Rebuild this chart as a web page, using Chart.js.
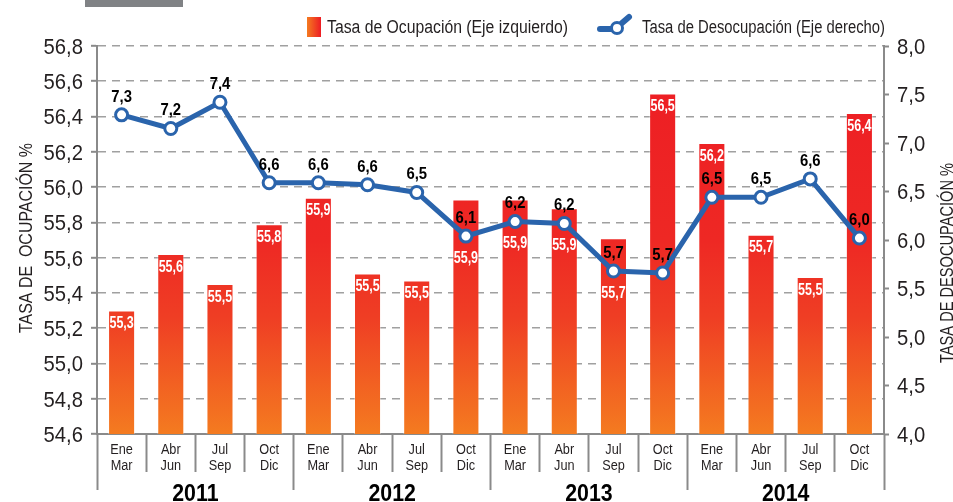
<!DOCTYPE html>
<html><head><meta charset="utf-8">
<script src="https://cdn.jsdelivr.net/npm/chart.js@4/dist/chart.umd.min.js"></script>
<style>html,body{margin:0;padding:0;background:#fff;}#wrap{width:953px;height:502px;position:relative;}</style>
</head><body><div id="wrap"><canvas id="c" width="953" height="502"></canvas></div>
<script>
const quarters = [['Ene','Mar'],['Abr','Jun'],['Jul','Sep'],['Oct','Dic'],['Ene','Mar'],['Abr','Jun'],['Jul','Sep'],['Oct','Dic'],['Ene','Mar'],['Abr','Jun'],['Jul','Sep'],['Oct','Dic'],['Ene','Mar'],['Abr','Jun'],['Jul','Sep'],['Oct','Dic']];
const years = ['2011','2012','2013','2014'];
const ocupacion = [55.30,55.62,55.45,55.79,55.94,55.51,55.47,55.93,55.93,55.88,55.71,56.53,56.25,55.73,55.49,56.42];
const ocupacionText = ['55,3','55,6','55,5','55,8','55,9','55,5','55,5','55,9','55,9','55,9','55,7','56,5','56,2','55,7','55,5','56,4'];
const desocupacion = [7.29,7.15,7.42,6.59,6.59,6.57,6.49,6.04,6.19,6.17,5.68,5.66,6.44,6.44,6.63,6.02];
const desocupacionText = ['7,3','7,2','7,4','6,6','6,6','6,6','6,5','6,1','6,2','6,2','5,7','5,7','6,5','6,5','6,6','6,0'];
const leftTicks = [54.6,54.8,55.0,55.2,55.4,55.6,55.8,56.0,56.2,56.4,56.6,56.8];
const rightTicks = [4.0,4.5,5.0,5.5,6.0,6.5,7.0,7.5,8.0];
const legendLabels = ['Tasa de Ocupación (Eje izquierdo)','Tasa de Desocupación (Eje derecho)'];
const axisTitles = ['TASA DE  OCUPACIÓN %','TASA DE DESOCUPACIÓN %'];

const F = '"Liberation Sans",Arial,Helvetica,sans-serif';
const TXT = '#231f20';
const AXIS = '#8a8a8a';
const GRID = '#a0a0a0';
const BLUE = '#2a64ac';
const CAP = 0.716;
const fmt = v => Number(v).toFixed(1).replace('.', ',');

// draw horizontally condensed text; (x,y) = anchor, y = vertical centre of capitals
function ctext(ctx, text, x, y, o) {
  ctx.save();
  ctx.font = (o.bold ? 'bold ' : '') + o.size + 'px ' + F;
  ctx.fillStyle = o.color || TXT;
  ctx.textBaseline = 'alphabetic';
  ctx.textAlign = o.align || 'center';
  let sx = o.sx || 1;
  if (o.width) sx = o.width / ctx.measureText(text).width;
  ctx.translate(x, y);
  if (o.rot) ctx.rotate(o.rot);
  ctx.scale(sx, 1);
  ctx.fillText(text, 0, o.size * CAP / 2);
  ctx.restore();
}

function barGradient(ctx) {
  const ca = ctx.chart.chartArea;
  if (!ca) return '#ee3a24';
  const g = ctx.chart.ctx.createLinearGradient(0, ca.top, 0, ca.bottom);
  g.addColorStop(0, '#ed1c24');
  g.addColorStop(0.5, '#ee2824');
  g.addColorStop(0.7, '#ef3e24');
  g.addColorStop(1, '#f47b20');
  return g;
}

const decor = {
  id: 'decor',
  afterDatasetDraw(chart, args) {
    if (args.index !== 1) return;
    const ctx = chart.ctx;
    const bars = chart.getDatasetMeta(1).data;
    const pts = chart.getDatasetMeta(0).data;
    bars.forEach((b, i) => {
      const top = b.y;
      const py = pts[i].y;
      let ly = top + 12;
      if (py - top > 0 && py - top < 45) ly = py + 21;
      ctext(ctx, ocupacionText[i], b.x, ly, { size: 16, bold: true, sx: 0.78, color: '#ffffff' });
    });
  },
  afterDatasetsDraw(chart) {
    const ctx = chart.ctx;
    const pts = chart.getDatasetMeta(0).data;
    pts.forEach((p, i) => ctext(ctx, desocupacionText[i], p.x, p.y - 19, { size: 16.5, bold: true, sx: 0.9, color: '#000000' }));
  },
  afterDraw(chart) {
    const ctx = chart.ctx;
    const sc = chart.scales;
    // tick labels
    sc.y.ticks.forEach(t => ctext(ctx, fmt(t.value), 83, sc.y.getPixelForValue(t.value), { size: 22, sx: 0.92, align: 'right' }));
    sc.y2.ticks.forEach(t => ctext(ctx, fmt(t.value), 897, sc.y2.getPixelForValue(t.value), { size: 22, sx: 0.92, align: 'left' }));
    quarters.forEach((q, i) => {
      const x = sc.x.getPixelForValue(i);
      ctext(ctx, q[0], x, 448.8, { size: 15.5, sx: 0.82 });
      ctext(ctx, q[1], x, 464.6, { size: 15.5, sx: 0.82 });
    });
    years.forEach((yv, i) => ctext(ctx, yv, sc.x2.getPixelForValue(i), 492, { size: 24.5, bold: true, sx: 0.87, color: '#000' }));
    ctx.save();
    // top grey tab
    ctx.fillStyle = '#808285';
    ctx.fillRect(85, 0, 98, 7);
    // legend
    const g = ctx.createLinearGradient(307, 0, 321, 0);
    g.addColorStop(0, '#f47b20');
    g.addColorStop(1, '#ed1c24');
    ctx.fillStyle = g;
    ctx.fillRect(307, 17, 14, 20);
    ctx.strokeStyle = BLUE;
    ctx.lineCap = 'round';
    ctx.lineWidth = 6;
    ctx.beginPath(); ctx.moveTo(600, 29); ctx.lineTo(612, 29); ctx.stroke();
    ctx.beginPath(); ctx.moveTo(622, 23); ctx.lineTo(629, 17); ctx.stroke();
    ctx.lineWidth = 3;
    ctx.fillStyle = '#fff';
    ctx.beginPath(); ctx.arc(617, 28, 5.5, 0, Math.PI * 2); ctx.fill(); ctx.stroke();
    ctx.restore();
    ctext(ctx, legendLabels[0], 327, 27, { size: 18, width: 241, align: 'left' });
    ctext(ctx, legendLabels[1], 642, 27, { size: 18, width: 243, align: 'left' });
    // axis titles
    ctext(ctx, axisTitles[0], 25, 238, { size: 19, width: 190, rot: -Math.PI / 2 });
    ctext(ctx, axisTitles[1], 946, 263, { size: 19, width: 200, rot: -Math.PI / 2 });
  }
};

new Chart(document.getElementById('c'), {
  data: {
    labels: quarters,
    datasets: [
      {
        type: 'line', label: legendLabels[1], data: desocupacion, yAxisID: 'y2', xAxisID: 'x', order: 0,
        borderColor: BLUE, borderWidth: 5, tension: 0,
        pointRadius: 6, pointBorderWidth: 3, pointBackgroundColor: '#ffffff', pointBorderColor: BLUE
      },
      {
        type: 'bar', label: legendLabels[0], data: ocupacion, yAxisID: 'y', xAxisID: 'x', order: 1,
        backgroundColor: barGradient, borderColor: 'rgba(255,255,255,0.35)', borderWidth: 1,
        barPercentage: 0.55, categoryPercentage: 1
      }
    ]
  },
  options: {
    responsive: false, animation: false, devicePixelRatio: 1,
    layout: { padding: { top: 46, left: 0, right: 0, bottom: 0 } },
    plugins: { legend: { display: false }, tooltip: { enabled: false } },
    scales: {
      x: {
        type: 'category', position: 'bottom', weight: 0, offset: true,
        grid: { offset: true, drawOnChartArea: false, drawTicks: true, tickLength: 38, tickColor: AXIS, tickWidth: 2 },
        border: { display: true, color: AXIS, width: 2 },
        ticks: { display: false, autoSkip: false, maxRotation: 0 },
        afterFit(s) { s.height = 38; }
      },
      x2: {
        type: 'category', labels: years, position: 'bottom', weight: 1, offset: true,
        grid: { offset: true, drawOnChartArea: false, drawTicks: true, tickLength: 18, tickColor: AXIS, tickWidth: 2 },
        border: { display: false },
        ticks: { display: false, autoSkip: false, maxRotation: 0 },
        afterFit(s) { s.height = 30; }
      },
      y: {
        type: 'linear', position: 'left', min: 54.6, max: 56.8,
        afterBuildTicks(s) { s.ticks = leftTicks.map(v => ({ value: v })); },
        grid: { color: GRID, lineWidth: 1.6, drawTicks: true, tickLength: 6, tickColor: AXIS, tickWidth: 2 },
        border: { display: true, color: AXIS, width: 2, dash: [8, 6] },
        ticks: { display: false },
        afterFit(s) { s.width = 97; }
      },
      y2: {
        type: 'linear', position: 'right', min: 4, max: 8,
        afterBuildTicks(s) { s.ticks = rightTicks.map(v => ({ value: v })); },
        grid: { drawOnChartArea: false, drawTicks: true, tickLength: 5, tickColor: AXIS, tickWidth: 2 },
        border: { display: true, color: AXIS, width: 2 },
        ticks: { display: false },
        afterFit(s) { s.width = 69; }
      }
    }
  },
  plugins: [decor]
});
</script></body></html>
